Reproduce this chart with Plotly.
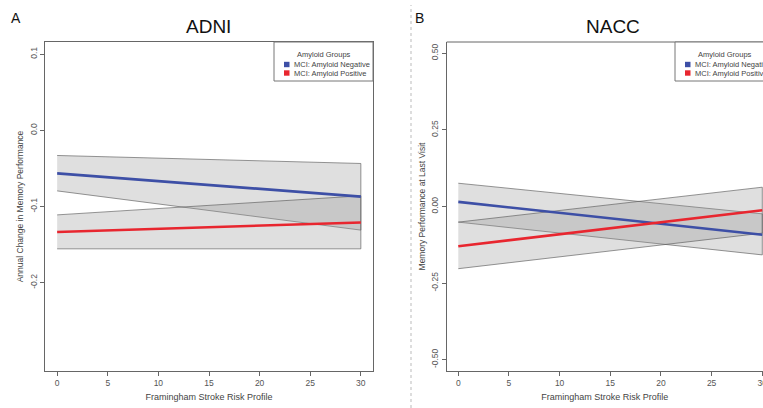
import plotly.graph_objects as go

# ---------------- data ----------------
frsp = [0, 30]  # Framingham Stroke Risk Profile (line end points)
x_ticks = [0, 5, 10, 15, 20, 25, 30]

groups = ["MCI: Amyloid Negative", "MCI: Amyloid Positive"]
legend_title = "Amyloid Groups"

# ADNI – Annual change in memory performance
adni_neg_fit = [-0.0565, -0.087]
adni_neg_upper = [-0.033, -0.0435]
adni_neg_lower = [-0.0795, -0.131]
adni_pos_fit = [-0.1334, -0.121]
adni_pos_upper = [-0.111, -0.086]
adni_pos_lower = [-0.1556, -0.1556]
adni_yticks = [-0.2, -0.1, 0.0, 0.1]
adni_yticktext = ["-0.2", "-0.1", "0.0", "0.1"]

# NACC – Memory performance at last visit
nacc_neg_fit = [0.015, -0.092]
nacc_neg_upper = [0.076, -0.024]
nacc_neg_lower = [-0.051, -0.158]
nacc_pos_fit = [-0.130, -0.012]
nacc_pos_upper = [-0.051, 0.063]
nacc_pos_lower = [-0.203, -0.087]
nacc_yticks = [-0.50, -0.25, 0.0, 0.25, 0.50]
nacc_yticktext = ["-0.50", "-0.25", "0.00", "0.25", "0.50"]

# ---------------- style ----------------
W, H = 763, 408
FONT = "Liberation Sans, Arial, Helvetica, sans-serif"
BLUE = "#3d4fa6"
RED = "#e8262f"
COLORS = [BLUE, RED]
BAND_FILL = "rgba(150,150,150,0.3)"
BAND_LINE = "rgba(90,90,90,0.8)"
AXIS_COL = "#666666"
TEXT_COL = "#444444"
TICK_FONT = dict(family=FONT, size=8.5, color="#555555")


def px_x(p):
    return p / W


def px_y(p):
    return 1 - p / H


fig = go.Figure()


def add_panel(xa, ya, neg, pos):
    for fit, up, lo in [neg, pos]:
        fig.add_trace(go.Scatter(
            x=frsp + frsp[::-1], y=up + lo[::-1], fill="toself",
            fillcolor=BAND_FILL, line=dict(color=BAND_LINE, width=0.8),
            mode="lines", showlegend=False, hoverinfo="skip", xaxis=xa, yaxis=ya))
    for (fit, up, lo), name, col in zip([neg, pos], groups, COLORS):
        fig.add_trace(go.Scatter(x=frsp, y=fit, mode="lines", name=name,
                                 line=dict(color=col, width=2.6),
                                 showlegend=False, xaxis=xa, yaxis=ya))


add_panel("x", "y", (adni_neg_fit, adni_neg_upper, adni_neg_lower),
          (adni_pos_fit, adni_pos_upper, adni_pos_lower))
add_panel("x2", "y2", (nacc_neg_fit, nacc_neg_upper, nacc_neg_lower),
          (nacc_pos_fit, nacc_pos_upper, nacc_pos_lower))

ydom = [px_y(371), px_y(42)]
common_x = dict(tickvals=x_ticks, ticks="outside", ticklen=4, tickcolor=AXIS_COL,
                showgrid=False, zeroline=False, showline=True, linecolor=AXIS_COL,
                linewidth=1, tickfont=TICK_FONT, ticklabeloverflow="allow",
                title=dict(text="Framingham Stroke Risk Profile",
                           font=dict(family=FONT, size=9, color=TEXT_COL), standoff=6))
common_y = dict(ticks="outside", ticklen=4, tickcolor=AXIS_COL, tickangle=-90,
                showgrid=False, zeroline=False, showline=True, linecolor=AXIS_COL,
                linewidth=1, tickfont=TICK_FONT, domain=ydom)

fig.update_layout(
    width=W, height=H, paper_bgcolor="white", plot_bgcolor="white",
    margin=dict(l=0, r=0, t=0, b=0, autoexpand=False),
    showlegend=False,
    xaxis=dict(domain=[px_x(45), px_x(373)], range=[-1.2, 31.2], anchor="y",
               mirror=True, **common_x),
    yaxis=dict(range=[-0.316, 0.116], tickvals=adni_yticks, ticktext=adni_yticktext,
               anchor="x", mirror=True,
               title=dict(text="Annual Change in Memory Performance",
                          font=dict(family=FONT, size=8.5, color=TEXT_COL), standoff=3),
               **common_y),
    xaxis2=dict(domain=[px_x(446.7), 1.0], range=[-1.145, 30.07], anchor="y2",
                **common_x),
    yaxis2=dict(range=[-0.537, 0.537], tickvals=nacc_yticks, ticktext=nacc_yticktext,
                anchor="x2",
                title=dict(text="Memory Performance at Last Visit",
                           font=dict(family=FONT, size=8.5, color=TEXT_COL), standoff=3),
                **common_y),
)

# top border of panel B (right side runs off the image)
fig.add_shape(type="line", xref="x2 domain", yref="y2 domain", x0=0, x1=1, y0=1, y1=1,
              line=dict(color=AXIS_COL, width=1))
# divider between panels
fig.add_shape(type="line", xref="paper", yref="paper", x0=px_x(411), x1=px_x(411),
              y0=0, y1=px_y(5), line=dict(color="#bbbbbb", width=1, dash="dot"))


# compact R-style legends (box + title + coloured squares)
def add_legend(left, top):
    width, height = 99, 39
    fig.add_shape(type="rect", xref="paper", yref="paper",
                  x0=px_x(left), x1=px_x(left + width), y0=px_y(top + height), y1=px_y(top),
                  fillcolor="white", line=dict(color="#777777", width=1), layer="above")
    fig.add_annotation(text=legend_title, xref="paper", yref="paper",
                       x=px_x(left + width / 2), y=px_y(top + 12.5), showarrow=False,
                       xanchor="center", yanchor="middle",
                       font=dict(family=FONT, size=7.5, color=TEXT_COL))
    for i, (name, col) in enumerate(zip(groups, COLORS)):
        yc = top + 22.5 + i * 8.5
        fig.add_shape(type="rect", xref="paper", yref="paper",
                      x0=px_x(left + 10), x1=px_x(left + 15.5),
                      y0=px_y(yc + 2.7), y1=px_y(yc - 2.7),
                      fillcolor=col, line=dict(width=0), layer="above")
        fig.add_annotation(text=name, xref="paper", yref="paper",
                           x=px_x(left + 18), y=px_y(yc), showarrow=False,
                           xanchor="left", yanchor="middle",
                           font=dict(family=FONT, size=7.5, color=TEXT_COL))


add_legend(274, 42)
add_legend(675, 42)

ann_font_title = dict(family=FONT, size=19, color="#111111")
for txt, xp, yp, fnt in [("ADNI", 208, 27, ann_font_title),
                         ("NACC", 613, 27, ann_font_title),
                         ("A", 16, 18, dict(family=FONT, size=14, color="#111111")),
                         ("B", 419, 18, dict(family=FONT, size=14, color="#111111"))]:
    fig.add_annotation(text=txt, x=px_x(xp), y=px_y(yp), xref="paper", yref="paper",
                       xanchor="center", yanchor="middle", showarrow=False, font=fnt)

fig.write_html("out.html", config={"displayModeBar": False},
               post_script="document.body.style.margin='0';document.body.style.overflow='hidden';")
